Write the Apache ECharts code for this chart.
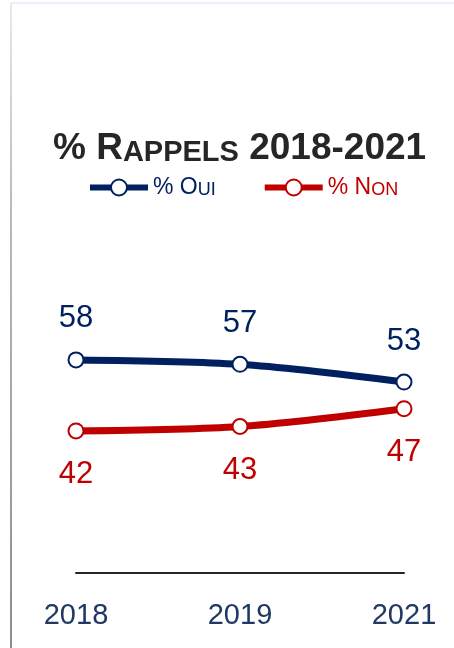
<!DOCTYPE html>
<html>
<head>
<meta charset="utf-8">
<script src="https://cdn.jsdelivr.net/npm/echarts@6/dist/echarts.min.js"></script>
<style>
  html, body { margin: 0; padding: 0; background: #fff; }
  #chart { width: 454px; height: 648px; }
</style>
</head>
<body>
<div id="chart"></div>
<script>
// données
const years = ['2018', '2019', '2021']
const oui = [58, 57, 53]
const non = [42, 43, 47]

const blue = '#002060'
const red = '#C00000'
const font = '"Liberation Sans", Arial, sans-serif'

const chart = echarts.init(document.getElementById('chart'))

chart.setOption({
  animation: false,
  graphic: [
    {
      type: 'rect',
      shape: { x: 10, y: 3, width: 2, height: 645 },
      style: {
        fill: {
          type: 'linear', x: 0, y: 0, x2: 0, y2: 1,
          colorStops: [
            { offset: 0, color: '#e6ebf3' },
            { offset: 0.3, color: '#b8bcc4' },
            { offset: 1, color: '#8c8c8c' },
          ],
        },
      },
    },
    {
      type: 'rect',
      shape: { x: 11, y: 2, width: 443, height: 2 },
      style: { fill: '#eaf0f9' },
    },
  ],
  title: {
    text: '{b|% R}{s|APPELS}{b| 2018-2021}',
    left: 48,
    top: 125,
    textStyle: {
      rich: {
        b: { fontFamily: font, fontWeight: 'bold', fontSize: 37, color: '#262626' },
        s: { fontFamily: font, fontWeight: 'bold', fontSize: 29, color: '#262626', verticalAlign: 'bottom' },
      },
    },
  },
  legend: {
    top: 171,
    left: 82,
    itemWidth: 58,
    itemHeight: 20,
    itemGap: 46,
    data: ['% Oui', '% Non'],
    lineStyle: { width: 6 },
    formatter: name => name === '% Oui' ? '{bo|% O}{bs|UI}' : '{ro|% N}{rs|ON}',
    textStyle: {
      fontFamily: font,
      rich: {
        bo: { fontFamily: font, fontSize: 23, color: blue },
        bs: { fontFamily: font, fontSize: 18, color: blue, verticalAlign: 'bottom' },
        ro: { fontFamily: font, fontSize: 23, color: red },
        rs: { fontFamily: font, fontSize: 18, color: red, verticalAlign: 'bottom' },
      },
    },
  },
  grid: { left: 76, right: 50, top: 306.6, bottom: 75 },
  xAxis: {
    type: 'category',
    data: years,
    boundaryGap: false,
    axisLine: { lineStyle: { color: '#262626', width: 2 } },
    axisTick: { show: false },
    axisLabel: { fontFamily: font, fontSize: 29, color: '#1F3864', margin: 28 },
  },
  yAxis: {
    type: 'value',
    min: 10,
    max: 70,
    show: false,
  },
  series: [
    {
      name: '% Oui',
      type: 'line',
      data: oui,
      smooth: 0.3,
      symbol: 'circle',
      symbolSize: 15,
      lineStyle: { color: blue, width: 7 },
      itemStyle: { color: '#fff', borderColor: blue, borderWidth: 2 },
      label: {
        show: true,
        position: 'top',
        distance: 17,
        fontFamily: font,
        fontSize: 31,
        color: blue,
      },
    },
    {
      name: '% Non',
      type: 'line',
      data: non,
      smooth: 0.3,
      symbol: 'circle',
      symbolSize: 15,
      lineStyle: { color: red, width: 7 },
      itemStyle: { color: '#fff', borderColor: red, borderWidth: 2 },
      label: {
        show: true,
        position: 'bottom',
        distance: 20,
        fontFamily: font,
        fontSize: 31,
        color: red,
      },
    },
  ],
})
</script>
</body>
</html>
